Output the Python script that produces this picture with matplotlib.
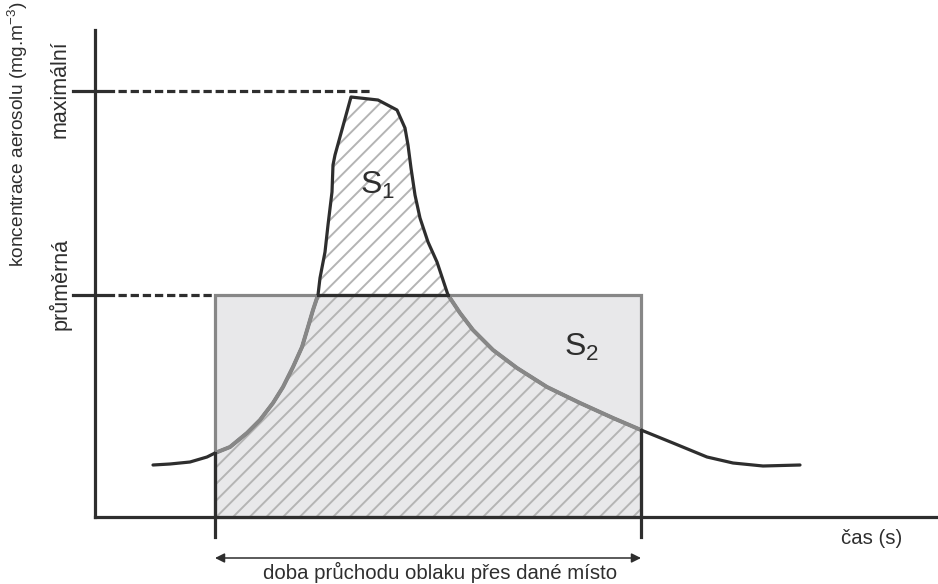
import matplotlib
matplotlib.use("Agg")
import matplotlib.pyplot as plt
from matplotlib import patches
import numpy as np

plt.rcParams["font.family"] = ["Liberation Sans", "DejaVu Sans"]
plt.rcParams["mathtext.fontset"] = "custom"
plt.rcParams["mathtext.rm"] = "Liberation Sans"
plt.rcParams["mathtext.it"] = "Liberation Sans"
plt.rcParams["mathtext.default"] = "regular"
plt.rcParams["hatch.linewidth"] = 1.4
plt.rcParams["hatch.color"] = "#b4b4b4"

# concentration course of the passing cloud (time, concentration)
t = np.array([58, 75, 95, 112, 120, 135, 152, 165, 178, 188, 198, 207, 213,
              218, 223, 225, 230, 233, 237, 238, 240, 256, 283, 302, 310,
              313, 316, 320, 325, 333, 342, 353, 365, 378, 398, 422, 452,
              485, 518, 546, 578, 612, 638, 668, 705])
c = np.array([52, 53, 55, 60, 64, 70, 84, 97, 114, 130, 150, 170, 190,
              207, 222, 239, 265, 292, 325, 352, 362, 420, 417, 407, 389,
              372, 349, 322, 299, 275, 255, 222, 204, 187, 167, 149, 130,
              114, 99, 87, 74, 60, 54, 51, 52])

c_max = 426        # maximální
c_avg = 222        # průměrná
t_start = 120      # cloud arrives
t_end = 546        # cloud leaves

y_top = 487
x_right = 843

dark = "#2e2e2e"
grey = "#878787"
lw = 2.3

fig = plt.figure(figsize=(9.38, 5.84), dpi=100)
ax = fig.add_axes([0, 0, 1, 1])
ax.set_xlim(-95, 843)
ax.set_ylim(-67, 517)
ax.axis("off")

# S2 rectangle: average concentration over the passage time
rect = patches.Rectangle((t_start, 0), t_end - t_start, c_avg,
                         facecolor="#e8e8ea", edgecolor="none", zorder=1)
ax.add_patch(rect)

# hatched area under the curve during the passage
inside = (t >= t_start) & (t <= t_end)
ax.fill_between(t[inside], 0, c[inside], facecolor="none", hatch="//",
                edgecolor="#b4b4b4", linewidth=0, zorder=2)

# rectangle outline
ax.add_patch(patches.Rectangle((t_start, 0), t_end - t_start, c_avg,
                               facecolor="none", edgecolor=grey, lw=lw,
                               zorder=3))

# curve, grey where it runs inside the rectangle
ax.plot(t, c, color=dark, lw=lw, solid_joinstyle="round",
        solid_capstyle="round", zorder=4)
clip = patches.Rectangle((t_start, 0), t_end - t_start, c_avg,
                         transform=ax.transData)
grey_line, = ax.plot(t, c, color=grey, lw=lw + 0.6, solid_joinstyle="round",
                     zorder=5)
grey_line.set_clip_path(clip)

# base of S1 and the dark sides of the rectangle below the curve
cross = t[c == c_avg]
ax.plot([cross[0], cross[-1]], [c_avg, c_avg], color=dark, lw=lw, zorder=6)
ax.plot([t_start, t_start], [-20, c[t == t_start][0]], color=dark, lw=lw,
        zorder=6)
ax.plot([t_end, t_end], [-20, c[t == t_end][0]], color=dark, lw=lw, zorder=6)

# axes
ax.plot([0, 0], [0, y_top], color=dark, lw=lw, zorder=7)
ax.plot([0, x_right], [0, 0], color=dark, lw=lw, zorder=7)

# level marks
for level, end in ((c_max, 277), (c_avg, t_start)):
    ax.plot([-22, 18], [level, level], color=dark, lw=lw, zorder=7)
    ax.plot([23, end], [level, level], color=dark, lw=lw,
            linestyle=(0, (2.6, 1.2)), zorder=7)

ax.text(-35, 428, "maximální", rotation=90, ha="center", va="center",
        fontsize=15.5, color=dark)
ax.text(-35, 233, "průměrná", rotation=90, ha="center", va="center",
        fontsize=15.5, color=dark)
ax.text(-77, 383, "koncentrace aerosolu (mg.m$^{-3}$)", rotation=90,
        ha="center", va="center", fontsize=13.8, color=dark)
ax.text(777, -21, "čas (s)", ha="center", va="center", fontsize=14.7,
        color=dark)

ax.text(283, 332, "S$_1$", ha="center", va="center", fontsize=23, color=dark,
        zorder=8)
ax.text(487, 170, "S$_2$", ha="center", va="center", fontsize=23, color=dark,
        zorder=8)

# passage time arrow
ax.annotate("", xy=(t_start, -41), xytext=(t_end, -41),
            arrowprops=dict(arrowstyle="<|-|>", color=dark, lw=1.1,
                            mutation_scale=14, shrinkA=0, shrinkB=0))
ax.text(345, -55, "doba průchodu oblaku přes dané místo",
        ha="center", va="center", fontsize=14.7, color=dark)

fig.savefig("out.png", dpi=100)
